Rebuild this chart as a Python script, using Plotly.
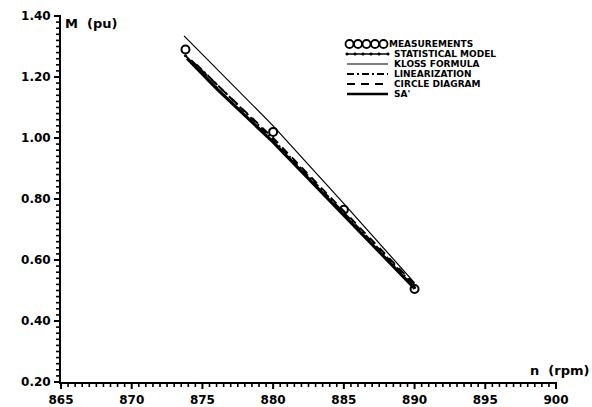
import plotly.graph_objects as go

# Torque–speed characteristic of the induction motor: measured points and models
n_meas = [873.8, 880, 885, 890]
m_meas = [1.29, 1.02, 0.765, 0.505]

n_stat = [873.8, 876, 880, 885, 890]
m_stat = [1.27, 1.165, 0.99, 0.75, 0.51]

n_kloss = [873.7, 880, 885, 890]
m_kloss = [1.335, 1.04, 0.785, 0.525]

n_lin = [874.6, 880, 885, 890]
m_lin = [1.24, 0.995, 0.755, 0.515]

n_circ = [874.2, 880, 885, 890]
m_circ = [1.255, 1.0, 0.76, 0.52]

n_sa = [873.9, 876, 880, 885, 890]
m_sa = [1.26, 1.16, 0.985, 0.745, 0.505]

x_range = [865, 900]
y_range = [0.20, 1.40]

legend_names = ["MEASUREMENTS", "STATISTICAL MODEL", "KLOSS FORMULA",
                "LINEARIZATION", "CIRCLE DIAGRAM", "SA'"]

W, H = 592, 407
L, R, T, B = 61, 556, 16, 382  # plot area edges in pixels

FONT = "DejaVu Sans"
INK = "black"
LIN_DASH = "7px,3px,2px,3px"
CIRC_DASH = "8px,6px"

fig = go.Figure()

# model curves
fig.add_trace(go.Scatter(x=n_kloss, y=m_kloss, mode="lines",
                         line=dict(color=INK, width=1.2), showlegend=False))
fig.add_trace(go.Scatter(x=n_stat, y=m_stat, mode="lines+markers",
                         line=dict(color=INK, width=1.8),
                         marker=dict(size=3, color=INK), showlegend=False))
fig.add_trace(go.Scatter(x=n_lin, y=m_lin, mode="lines",
                         line=dict(color=INK, width=2, dash=LIN_DASH),
                         showlegend=False))
fig.add_trace(go.Scatter(x=n_circ, y=m_circ, mode="lines",
                         line=dict(color=INK, width=2, dash=CIRC_DASH),
                         showlegend=False))
fig.add_trace(go.Scatter(x=n_sa, y=m_sa, mode="lines",
                         line=dict(color=INK, width=2.4), showlegend=False))
# measured points
fig.add_trace(go.Scatter(x=n_meas, y=m_meas, mode="markers",
                         marker=dict(symbol="circle-open", size=8, color=INK,
                                     line=dict(color=INK, width=2)),
                         showlegend=False))


def px_x(x):
    return (x - L) / (R - L)


def px_y(y):
    return (B - y) / (B - T)


shapes = []

# serrated tick combs along both axes (major every label, minor every tenth)
for k in range(71):
    v = (k * 0.5) / (x_range[1] - x_range[0])
    major = k % 10 == 0
    ln = 7 if major else 5
    shapes.append(dict(type="line", xref="paper", yref="paper", layer="above",
                       x0=v, x1=v, y0=0, y1=-ln / (B - T),
                       line=dict(color=INK, width=2 if major else 1.6)))
for k in range(61):
    v = (k * 0.02) / (y_range[1] - y_range[0])
    major = k % 10 == 0
    ln = 7 if major else 5
    shapes.append(dict(type="line", xref="paper", yref="paper", layer="above",
                       x0=0, x1=-ln / (R - L), y0=v, y1=v,
                       line=dict(color=INK, width=2 if major else 1.6)))

# key: sample strokes as paper-anchored shapes, names as annotations
row_y = [44, 54, 64, 74, 84, 94]
kx0, kx1 = 347, 388


def key_line(y, width, dash="solid"):
    shapes.append(dict(type="line", xref="paper", yref="paper",
                       x0=px_x(kx0), x1=px_x(kx1), y0=px_y(y), y1=px_y(y),
                       line=dict(color=INK, width=width, dash=dash)))


def key_circle(cx, cy, r, width, filled=False):
    shapes.append(dict(type="circle", xref="paper", yref="paper",
                       x0=px_x(cx - r), x1=px_x(cx + r),
                       y0=px_y(cy + r), y1=px_y(cy - r),
                       fillcolor=INK if filled else "rgba(0,0,0,0)",
                       line=dict(color=INK, width=width)))


for cx in [349.5, 358, 366.5, 375, 383.5]:
    key_circle(cx, row_y[0], 4, 1.8)
key_line(row_y[1], 1.5)
for cx in [kx0, 355, 363, 371, 379, kx1]:
    key_circle(cx, row_y[1], 1.3, 0.5, filled=True)
key_line(row_y[2], 1.2)
key_line(row_y[3], 2.2, LIN_DASH)
key_line(row_y[4], 2.2, CIRC_DASH)
key_line(row_y[5], 2.4)

annotations = []
for i, (name, yy) in enumerate(zip(legend_names, row_y)):
    annotations.append(dict(
        x=px_x(388 if i == 0 else 393), y=px_y(yy),
        xref="paper", yref="paper", text=name, showarrow=False,
        xanchor="left", yanchor="middle", borderpad=0,
        font=dict(family=FONT, size=9, color=INK, weight="bold")))

annotations.append(dict(x=px_x(63), y=px_y(23), xref="paper", yref="paper",
                        text="M  (pu)", showarrow=False,
                        xanchor="left", yanchor="middle",
                        font=dict(family=FONT, size=13, color=INK, weight="bold")))
annotations.append(dict(x=px_x(591), y=px_y(370), xref="paper", yref="paper",
                        text="n  (rpm)", showarrow=False,
                        xanchor="right", yanchor="middle",
                        font=dict(family=FONT, size=13, color=INK, weight="bold")))

tick_font = dict(family=FONT, size=12, color=INK, weight="bold")
CLEAR = "rgba(0,0,0,0)"

fig.update_layout(
    template="none",
    width=W, height=H,
    margin=dict(l=L, r=W - R, t=T, b=H - B, pad=0),
    paper_bgcolor="white", plot_bgcolor="white",
    font=dict(family=FONT, size=12, color=INK),
    annotations=annotations,
    shapes=shapes,
    xaxis=dict(range=x_range, tickmode="linear", tick0=865, dtick=5,
               automargin=False,
               showgrid=False, zeroline=False, showline=True,
               linecolor=INK, linewidth=1.8,
               ticks="outside", ticklen=6, tickwidth=2, tickcolor=CLEAR,
               tickfont=tick_font),
    yaxis=dict(range=y_range, tickmode="linear", tick0=0.2, dtick=0.2,
               tickformat=".2f", automargin=False,
               showgrid=False, zeroline=False, showline=True,
               linecolor=INK, linewidth=1.8,
               ticks="outside", ticklen=6, tickwidth=2, tickcolor=CLEAR,
               tickfont=tick_font),
)

fig.write_html("out.html")
